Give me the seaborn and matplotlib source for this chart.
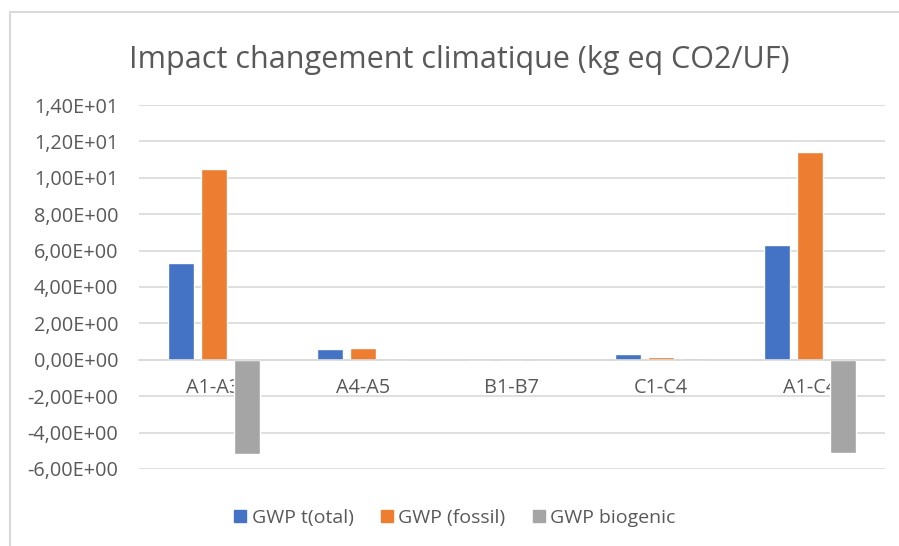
import numpy as np
import pandas as pd
import matplotlib
matplotlib.use("Agg")
import matplotlib.pyplot as plt
import seaborn as sns
from matplotlib.ticker import FuncFormatter, MultipleLocator
from matplotlib.lines import Line2D

# data
stages = ["A1-A3", "A4-A5", "B1-B7", "C1-C4", "A1-C4"]
series = ["GWP t(otal)", "GWP (fossil)", "GWP biogenic"]
gwp_total = [5.33, 0.58, 0.0, 0.30, 6.30]
gwp_fossil = [10.46, 0.64, 0.0, 0.18, 11.41]
gwp_biogenic = [-5.19, -0.08, 0.0, 0.08, -5.14]

df = pd.DataFrame({
    "stage": stages * 3,
    "serie": np.repeat(series, len(stages)),
    "value": gwp_total + gwp_fossil + gwp_biogenic,
})

sns.set_theme(style="white")
plt.rcParams["font.family"] = ["Open Sans", "DejaVu Sans"]
grey_txt = "#595959"

fig = plt.figure(figsize=(8.99, 5.46), dpi=100)
ax = fig.add_axes([139 / 899, 1 - 469 / 546, (885 - 139) / 899, (469 - 105) / 546])

sns.barplot(data=df, x="stage", y="value", hue="serie", hue_order=series,
            palette=["#4472C4", "#ED7D31", "#A5A5A5"], width=0.663, gap=0.21,
            saturation=1, ax=ax, legend=False)

ax.set_ylim(-6, 14)
ax.set_xlim(-0.5, len(stages) - 0.5)
ax.yaxis.set_major_locator(MultipleLocator(2))
ax.yaxis.set_major_formatter(FuncFormatter(lambda v, p: f"{v:.2E}".replace(".", ",")))
ax.grid(axis="y", color="#D9D9D9", linewidth=1.2)
ax.set_axisbelow(True)
for s in ["top", "right", "left"]:
    ax.spines[s].set_visible(False)
ax.spines["bottom"].set_position(("data", 0))
ax.spines["bottom"].set_color("#D9D9D9")
ax.spines["bottom"].set_linewidth(1.2)
ax.tick_params(axis="both", length=0, labelsize=14.3, colors=grey_txt)
ax.tick_params(axis="x", pad=13)
ax.tick_params(axis="y", pad=15)
ax.set_xlabel("")
ax.set_ylabel("")

fig.text(459 / 899, 1 - 60 / 546, "Impact changement climatique (kg eq CO2/UF)",
         ha="center", va="center", fontsize=22, color=grey_txt)

handles = [Line2D([], [], marker="s", linestyle="", markersize=9, color=c)
           for c in ["#4472C4", "#ED7D31", "#A5A5A5"]]
fig.legend(handles, series, loc="center", bbox_to_anchor=(453 / 899, 1 - 518 / 546),
           ncol=3, frameon=False, fontsize=14, labelcolor=grey_txt,
           handletextpad=0.1, columnspacing=1.2, handlelength=1.0)

# light frame around the chart area
fig.add_artist(Line2D([10 / 899, 1], [1 - 12 / 546] * 2, color="#D9D9D9", lw=1.5))
fig.add_artist(Line2D([10 / 899] * 2, [0, 1 - 12 / 546], color="#D9D9D9", lw=1.5))

fig.savefig("out.png", dpi=100)
